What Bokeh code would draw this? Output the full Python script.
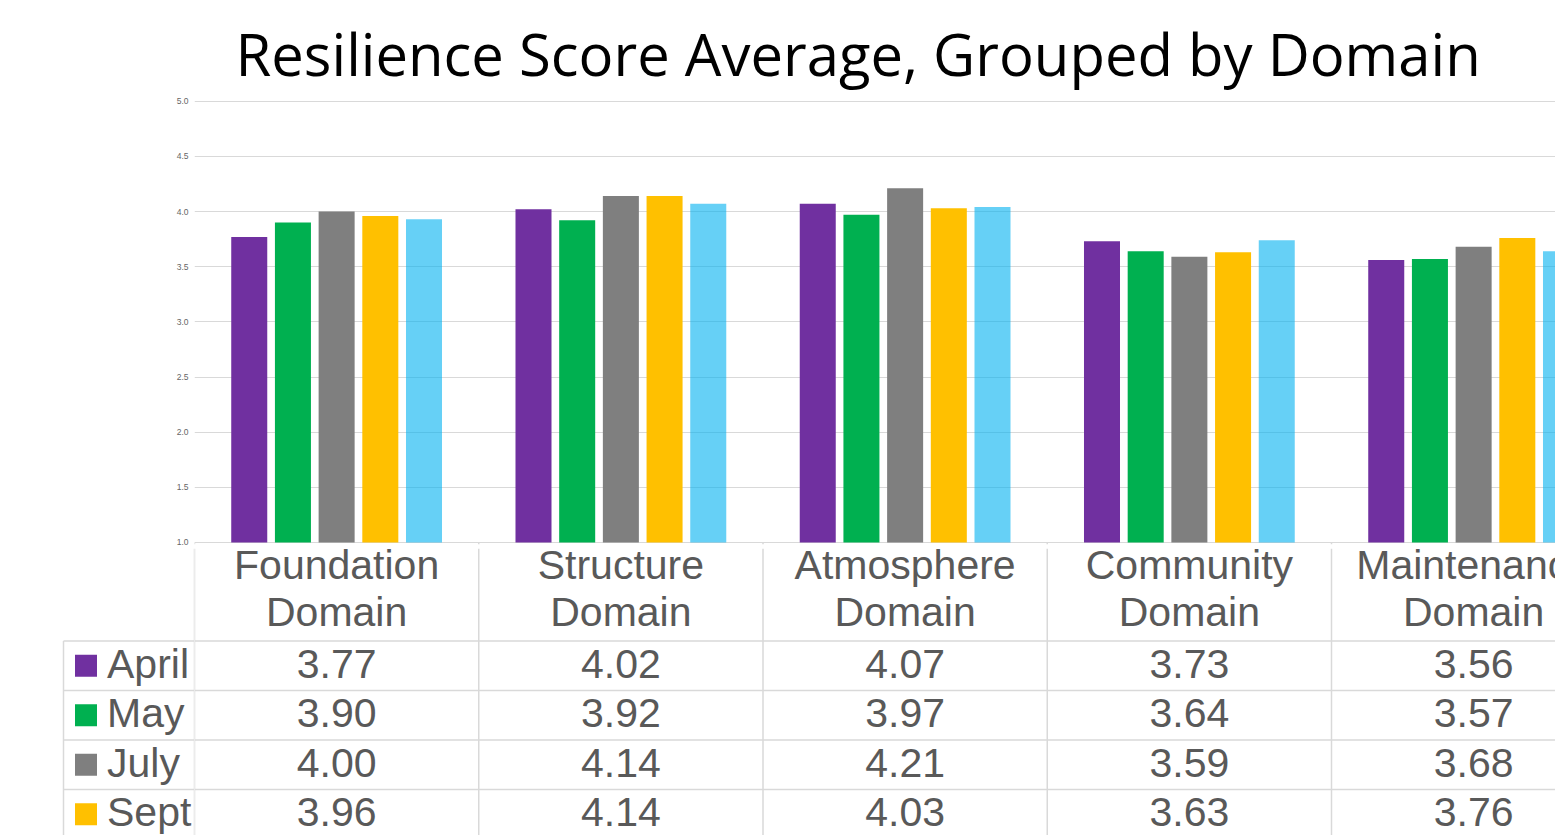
from bokeh.plotting import figure
from bokeh.layouts import column, row
from bokeh.models import Range1d, FixedTicker, NumeralTickFormatter, ColumnDataSource
from bokeh.core.properties import value
from bokeh.embed import file_html
from bokeh.resources import INLINE

# ---------------- data ----------------
domains = ["Foundation Domain", "Structure Domain", "Atmosphere Domain",
           "Community Domain", "Maintenance Domain"]
months = ["April", "May", "July", "Sept", "Nov"]
april = [3.77, 4.02, 4.07, 3.73, 3.56]
may = [3.90, 3.92, 3.97, 3.64, 3.57]
july = [4.00, 4.14, 4.21, 3.59, 3.68]
sept = [3.96, 4.14, 4.03, 3.63, 3.76]
nov = [3.93, 4.07, 4.04, 3.74, 3.64]   # row hidden in the reference
series = [april, may, july, sept, nov]
colors = ["#7030A0", "#00B050", "#7F7F7F", "#FFC000", "#00B0F0"]
alphas = [1.0, 1.0, 1.0, 1.0, 0.6]
y_ticks = [1.0, 1.5, 2.0, 2.5, 3.0, 3.5, 4.0, 4.5, 5.0]
title_text = "Resilience Score Average, Grouped by Domain"

# ---------------- layout constants ----------------
W = 1555
H = 835
PX_CAT = 284.25
LEFT = 194
X_END = (W - LEFT) / PX_CAT
PX_UNIT = 110.3
TOP_H = 548
Y_END = 5.0 + 4.7 / PX_UNIT
Y_START = 1.0 - 2.0 / PX_UNIT
GAP = 0.1537
BAR_W = 0.1267

GRID = "#d9d9d9"
TXT = "#595959"
FONT = value("Liberation Sans")

# ---------------- chart figure ----------------
p = figure(width=W, height=TOP_H, output_backend="svg", toolbar_location=None,
           x_range=Range1d(0, X_END), y_range=Range1d(Y_START, Y_END),
           x_axis_location=None, min_border_left=LEFT, min_border_right=0,
           min_border_top=96, min_border_bottom=4, title=title_text)
p.outline_line_color = None
p.title.text_font = "Open Sans"
p.title.text_font_size = "58px"
p.title.text_font_style = "normal"
p.title.text_color = "#000000"
p.title.align = "left"
p.title.offset = 41
p.title.standoff = 7

ticker = FixedTicker(ticks=y_ticks)
p.yaxis.ticker = ticker
p.yaxis.formatter = NumeralTickFormatter(format="0.0")
p.yaxis.axis_line_color = None
p.yaxis.major_tick_line_color = None
p.yaxis.major_tick_out = 0
p.yaxis.major_tick_in = 0
p.yaxis.minor_tick_line_color = None
p.yaxis.major_label_text_font_size = "8.5px"
p.yaxis.major_label_text_color = "#666666"
p.yaxis.major_label_text_font = "Liberation Sans"
p.yaxis.major_label_standoff = 6
p.ygrid.ticker = ticker
p.ygrid.grid_line_color = GRID
p.ygrid.grid_line_width = 1
p.xgrid.grid_line_color = None

n = len(domains)
for k, (vals, col, a) in enumerate(zip(series, colors, alphas)):
    xs = [i + 0.5 + (k - 2) * GAP for i in range(n)]
    src = ColumnDataSource(dict(x=xs, top=vals))
    p.vbar(x="x", top="top", bottom=1.0, width=BAR_W, source=src,
           fill_color=col, fill_alpha=a, line_color=None)

# short stubs of the table column separators below the baseline
p.segment(x0=list(range(n + 1)), y0=[1.0] * (n + 1), x1=list(range(n + 1)),
          y1=[Y_START] * (n + 1), line_color=GRID, line_width=1.5)

# ---------------- data table: header column + body ----------------
ROW = 49.5
ORIGIN = 541.5
BOT_H = H - TOP_H
YT = (TOP_H - ORIGIN) / ROW
YB = (H - ORIGIN) / ROW
X_TBL_L = -(LEFT - 63) / PX_CAT
X_SQ = -(LEFT - 85.5) / PX_CAT
X_LBL = -(LEFT - 106.5) / PX_CAT
BASE = 0.457
nrows = len(months)
yr = Range1d(YB, YT)


def bare(width, xr):
    f = figure(width=width, height=BOT_H, output_backend="svg", toolbar_location=None,
               x_range=xr, y_range=yr, x_axis_location=None, y_axis_location=None,
               min_border_left=0, min_border_right=0, min_border_top=0,
               min_border_bottom=0)
    f.outline_line_color = None
    f.xgrid.grid_line_color = None
    f.ygrid.grid_line_color = None
    return f


hdr = bare(LEFT, Range1d(-LEFT / PX_CAT, 0))
tbl = bare(W - LEFT, Range1d(0, X_END))

hy = [2 + r for r in range(nrows)]
# header column lines
hdr.segment(x0=[X_TBL_L] * nrows, y0=hy, x1=[0] * nrows, y1=hy,
            line_color=GRID, line_width=1.5)
hdr.segment(x0=[X_TBL_L, 0], y0=[2, YT], x1=[X_TBL_L, 0], y1=[YB, YB],
            line_color=GRID, line_width=1.5)
# row headers (legend keys)
hdr.rect(x=[X_SQ] * nrows, y=[2 + r + 0.5 for r in range(nrows)], width=22, height=22,
         width_units="screen", height_units="screen", fill_color=colors,
         fill_alpha=alphas, line_color=None)
hdr.text(x=[X_LBL] * nrows, y=[2 + r + BASE for r in range(nrows)], text=months,
         text_font=FONT, text_font_size="41px", text_color=TXT,
         text_align="left", text_baseline="alphabetic")

# body lines
tbl.segment(x0=[0] * nrows, y0=hy, x1=[X_END] * nrows, y1=hy,
            line_color=GRID, line_width=1.5)
vx = list(range(n + 1))
tbl.segment(x0=vx, y0=[YT] * len(vx), x1=vx, y1=[YB] * len(vx),
            line_color=GRID, line_width=1.5)

# header
hx, hyy, ht = [], [], []
for i, d in enumerate(domains):
    w1, w2 = d.split(" ", 1)
    hx += [i + 0.5, i + 0.5]
    hyy += [BASE, 0.96 + BASE]
    ht += [w1, w2]
tbl.text(x=hx, y=hyy, text=ht, text_font=FONT, text_font_size="41px",
         text_color=TXT, text_align="center", text_baseline="alphabetic")

# values
vx_, vy_, vt_ = [], [], []
for r, vals in enumerate(series):
    for i, v in enumerate(vals):
        vx_.append(i + 0.5)
        vy_.append(2 + r + BASE)
        vt_.append(f"{v:.2f}")
tbl.text(x=vx_, y=vy_, text=vt_, text_font=FONT, text_font_size="41px",
         text_color=TXT, text_align="center", text_baseline="alphabetic")

layout = column(p, row(hdr, tbl, spacing=0), spacing=0)
open("out.html", "w").write(file_html(layout, INLINE))
